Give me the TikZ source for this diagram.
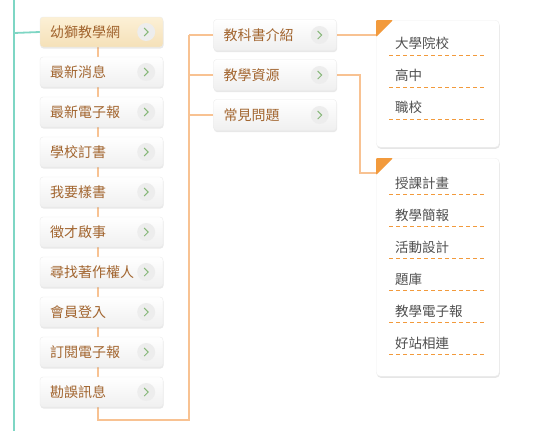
\documentclass[tikz,border=0pt]{standalone}
\usepackage{fontspec}
\setmainfont{Noto Sans CJK TC}
\usetikzlibrary{shadows,backgrounds}
\definecolor{btntext}{HTML}{A2652F}
\definecolor{droptext}{HTML}{505050}
\definecolor{linkline}{HTML}{F8C292}
\definecolor{dashcol}{HTML}{F29A3C}
\definecolor{mainline}{HTML}{7ED6C4}
\definecolor{chevgreen}{HTML}{86B878}
\definecolor{activetop}{HTML}{FCF0D6}
\definecolor{activebottom}{HTML}{F5E1B8}
\begin{document}
\begin{tikzpicture}[x=1pt,y=-1pt,
    btn/.style={draw=black!8, rounded corners=3pt, top color=white, bottom color=black!6,
        text=btntext, text width=103pt, inner xsep=10pt, minimum height=30pt, align=left,
        font=\fontsize{14}{14}\selectfont,
        drop shadow={shadow xshift=0.5pt,shadow yshift=-1.5pt,opacity=0.18}},
    activebtn/.style={btn, top color=activetop, bottom color=activebottom},
    dropbox/.style={draw=black!6, fill=white, rounded corners=4pt, minimum width=123pt,
        drop shadow={shadow xshift=0.6pt,shadow yshift=-1.6pt,opacity=0.2}},
    item/.style={anchor=west, text=droptext, inner sep=0pt, font=\fontsize{13.5}{14}\selectfont},
    dashline/.style={dashcol, line width=0.9pt, dash pattern=on 4pt off 3pt},
    link/.style={linkline, line width=1.6pt},
    chevron/.pic={\fill[black!7] (0,0) circle (9);
        \draw[chevgreen, line width=1pt] (-2,-4) -- (2,0) -- (-2,4);}
]
\useasboundingbox (0,0) rectangle (545,431);

% left column
\node[activebtn] (m1) at (101.5,32) {幼獅教學網};
\pic[shift={(-17,0)}] at (m1.east) {chevron};
\foreach \t [count=\i from 2] in {最新消息,最新電子報,學校訂書,我要樣書,徵才啟事,尋找著作權人,會員登入,訂閱電子報,勘誤訊息} {
    \node[btn] (m\i) at (101.5,{32+40*(\i-1)}) {\t};
    \pic[shift={(-17,0)}] at (m\i.east) {chevron};
}

% second column
\foreach \t [count=\i] in {教科書介紹,教學資源,常見問題} {
    \node[btn, minimum height=31pt] (s\i) at (275,{35+40*(\i-1)}) {\t};
    \pic[shift={(-17,0)}] at (s\i.east) {chevron};
}

% dropdowns
\node[dropbox, minimum height=127pt, anchor=north west] (d1) at (376,20) {};
\node[dropbox, minimum height=218pt, anchor=north west] (d2) at (376,158) {};
\foreach \d in {d1,d2}
    \fill[dashcol, rounded corners=1pt] (\d.north west) -- ++(17,0) -- ++(-17,17) -- cycle;
\foreach \t [count=\i] in {大學院校,高中,職校} {
    \node[item] (a\i) at (395,{43+32*(\i-1)}) {\t};
    \draw[dashline] (389,{55+32*(\i-1)}) -- ++(96,0);
}
\foreach \t [count=\i] in {授課計畫,教學簡報,活動設計,題庫,教學電子報,好站相連} {
    \node[item] (b\i) at (395,{183+32*(\i-1)}) {\t};
    \draw[dashline] (389,{194+32*(\i-1)}) -- ++(96,0);
}

\coordinate (top) at (14,0);
\coordinate (bottom) at (14,431);
\coordinate (turn) at (98,420);
\coordinate (rail) at (189,420);
\coordinate (k1) at (376,35);
\coordinate (k2) at (376,173);
\begin{scope}[on background layer]
    \draw[mainline, line width=1.8pt] (top) -- (bottom);
    \draw[mainline, line width=1.8pt] (14,33) -- (m1.west);
    \draw[link] (98,40) -- (turn) -- (rail) -- (189,35);
    \foreach \i in {1,2,3}
        \draw[link] (s\i.west -| rail) -- (s\i.west);
    \draw[link] (s1.east) -- (k1);
    \draw[link] (s2.east) -- (360,75) |- (k2);
\end{scope}
\end{tikzpicture}
\end{document}
